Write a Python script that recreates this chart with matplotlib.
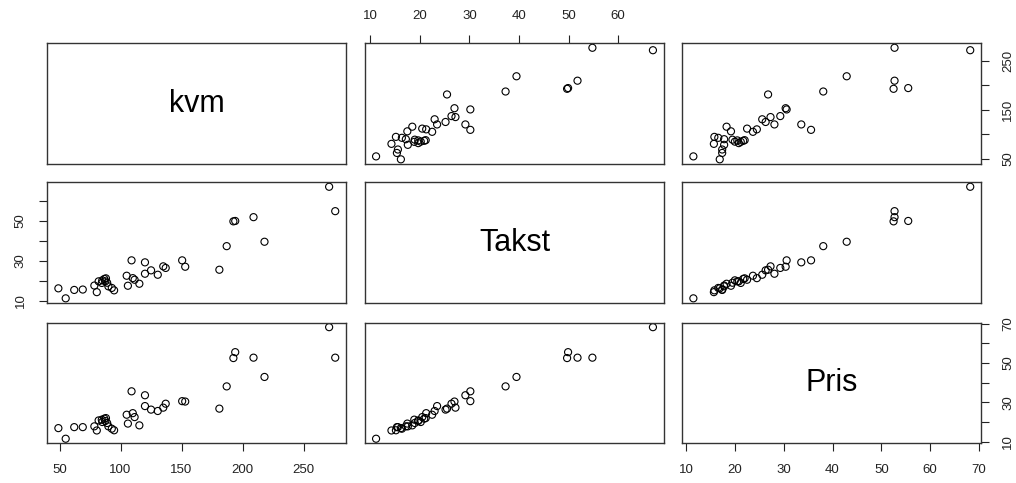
import numpy as np
import matplotlib.pyplot as plt

plt.rcParams['font.family'] = ['Liberation Sans', 'DejaVu Sans']

kvm = [49, 55, 62, 69, 78.5, 80.5, 82, 84.6, 85, 86.7, 87.5, 88, 89, 90,
       92.8, 94.7, 105, 106, 109, 110, 111.5, 115.4, 120, 120, 125, 130.5,
       135, 137, 150.5, 153, 181, 187, 192.5, 194, 209, 218, 271, 276]
takst = [16.2, 11.2, 15.4, 15.6, 17.6, 14.3, 19.7, 18.9, 20.2, 20.9, 19.7, 21.2, 19.0, 17.2,
         16.4, 15.2, 22.5, 17.5, 30.2, 21.3, 20.5, 18.5, 29.2, 23.5, 25.2, 23.0,
         27.2, 26.4, 30.2, 27.0, 25.5, 37.3, 49.7, 49.9, 51.8, 39.5, 67.0, 54.8]
pris = [16.9, 11.5, 17.4, 17.4, 17.8, 15.7, 20.8, 21.2, 20.0, 21.7, 20.5, 22.0, 19.5, 17.8,
        16.6, 15.8, 23.7, 19.2, 35.6, 24.5, 22.5, 18.3, 33.6, 28.1, 26.3, 25.6,
        27.3, 29.3, 30.6, 30.4, 26.8, 38.1, 52.5, 55.5, 52.7, 42.9, 68.2, 52.7]

names = ['kvm', 'Takst', 'Pris']
data = [np.array(kvm), np.array(takst), np.array(pris)]

kvm_ticks = [50, 100, 150, 200, 250]
takst_ticks = [10, 20, 30, 40, 50, 60]
pris_ticks = [10, 20, 30, 40, 50, 60, 70]


def lims(v):
    pad = 0.04 * (v.max() - v.min())
    return v.min() - pad, v.max() + pad


W, H = 1016, 483
lefts = [47.3, 365, 682.3]
tops = [43.3, 182.3, 322.7]
pw, ph = 299, 120.5

fig = plt.figure(figsize=(W / 100, H / 100), dpi=100)
axs = [[None] * 3 for _ in range(3)]

for i in range(3):
    for j in range(3):
        ax = fig.add_axes([lefts[j] / W, (H - tops[i] - ph) / H, pw / W, ph / H])
        axs[i][j] = ax
        ax.set_xlim(lims(data[j]))
        ax.set_ylim(lims(data[i]))
        if i == j:
            ax.text(0.5, 0.5, names[i], transform=ax.transAxes,
                    ha='center', va='center', fontsize=22)
        else:
            ax.scatter(data[j], data[i], s=26, facecolors='none',
                       edgecolors='black', linewidths=0.8)
        for sp in ax.spines.values():
            sp.set_color('#333333')
            sp.set_linewidth(1.0)
        ax.set_xticks([])
        ax.set_yticks([])
        ax.tick_params(length=6, width=0.8, pad=9, labelsize=9.5, colors='#222222')


def alt(ticks):
    return [str(t) if k % 2 == 0 else '' for k, t in enumerate(ticks)]


# top axis: Takst
ax = axs[0][1]
ax.set_xticks(takst_ticks, [str(t) for t in takst_ticks])
ax.xaxis.tick_top()

# right axis: kvm
ax = axs[0][2]
ax.set_yticks(kvm_ticks, alt(kvm_ticks))
ax.yaxis.tick_right()
ax.tick_params(axis='y', labelrotation=90)

# left axis: Takst
ax = axs[1][0]
ax.set_yticks(takst_ticks, alt(takst_ticks))
ax.tick_params(axis='y', labelrotation=90)

# bottom axis: kvm
ax = axs[2][0]
ax.set_xticks(kvm_ticks, [str(t) for t in kvm_ticks])

# bottom + right axis: Pris
ax = axs[2][2]
ax.set_xticks(pris_ticks, [str(t) for t in pris_ticks])
ax.set_yticks(pris_ticks, alt(pris_ticks))
ax.yaxis.tick_right()
ax.tick_params(axis='y', labelrotation=90)

for row in axs:
    for ax in row:
        for lab in ax.get_yticklabels():
            lab.set_va('center')

fig.savefig('out.png', dpi=100)
